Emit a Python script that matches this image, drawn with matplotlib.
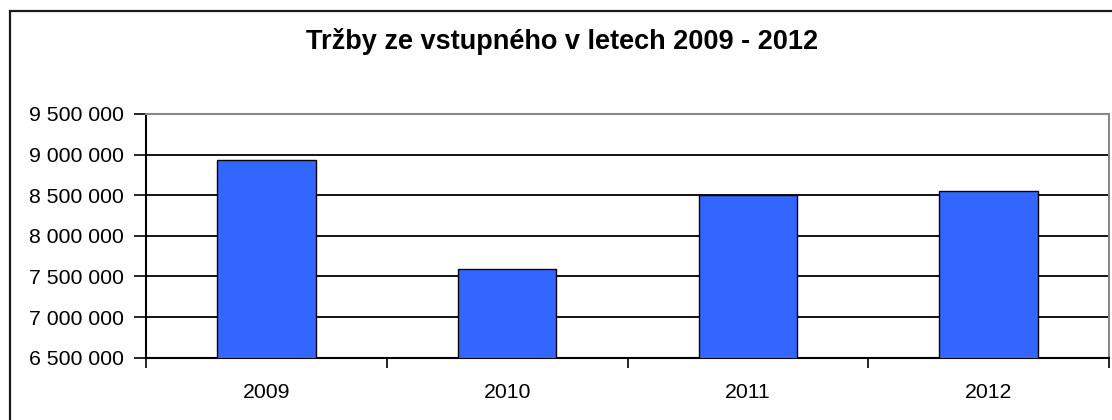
import matplotlib
matplotlib.use("Agg")
import matplotlib.pyplot as plt
from matplotlib.patches import Rectangle
from matplotlib.ticker import FuncFormatter

years = ["2009", "2010", "2011", "2012"]
revenue = [8934000, 7598000, 8504000, 8546000]
y_ticks = [6500000, 7000000, 7500000, 8000000, 8500000, 9000000, 9500000]
title = "Tržby ze vstupného v letech 2009 - 2012"

plt.rcParams['font.family'] = ['Liberation Sans', 'DejaVu Sans']

W, H = 1112, 420
fig = plt.figure(figsize=(W / 100, H / 100), dpi=100)
fig.patch.set_facecolor('white')

# outer chart border (extends beyond the image at right/bottom)
fig.patches.append(Rectangle((9.5 / W, -0.1), 1.2, (H - 10.5) / H + 0.1,
                             transform=fig.transFigure, fill=False,
                             edgecolor='#1a1a1a', linewidth=1.6, zorder=0))

left, right, top, bottom = 146, 1109, 114, 357.7
ax = fig.add_axes([left / W, 1 - bottom / H, (right - left) / W, (bottom - top) / H])

x = list(range(len(years)))
ax.bar(x, revenue, width=0.41, color='#3366FF', edgecolor='black',
       linewidth=1.0, zorder=3)

ax.set_xlim(-0.5, len(years) - 0.5)
ax.set_ylim(y_ticks[0], y_ticks[-1])
ax.set_yticks(y_ticks)
ax.yaxis.set_major_formatter(FuncFormatter(lambda v, p: f"{int(v):,}".replace(",", " ")))
ax.set_xticks(x)
ax.set_xticklabels(years)
ax.set_xticks([i - 0.5 for i in range(len(years) + 1)], minor=True)
ax.tick_params(axis='x', which='major', length=0, pad=18, labelsize=15.3)
ax.tick_params(axis='x', which='minor', length=7, width=1.2, direction='out', color='black')
ax.tick_params(axis='y', length=9, width=1.2, pad=7, labelsize=15.3, direction='out')

ax.grid(axis='y', color='black', linewidth=1.3, zorder=1)
for s in ['top', 'right']:
    ax.spines[s].set_color('#888888')
    ax.spines[s].set_linewidth(1.5)
for s in ['left', 'bottom']:
    ax.spines[s].set_color('black')
    ax.spines[s].set_linewidth(1.5)
ax.set_axisbelow(True)

fig.text(562 / W, 1 - 49 / H, title, ha='center', va='baseline',
         fontsize=19.5, fontweight='bold')

fig.savefig('out.png', dpi=100)
